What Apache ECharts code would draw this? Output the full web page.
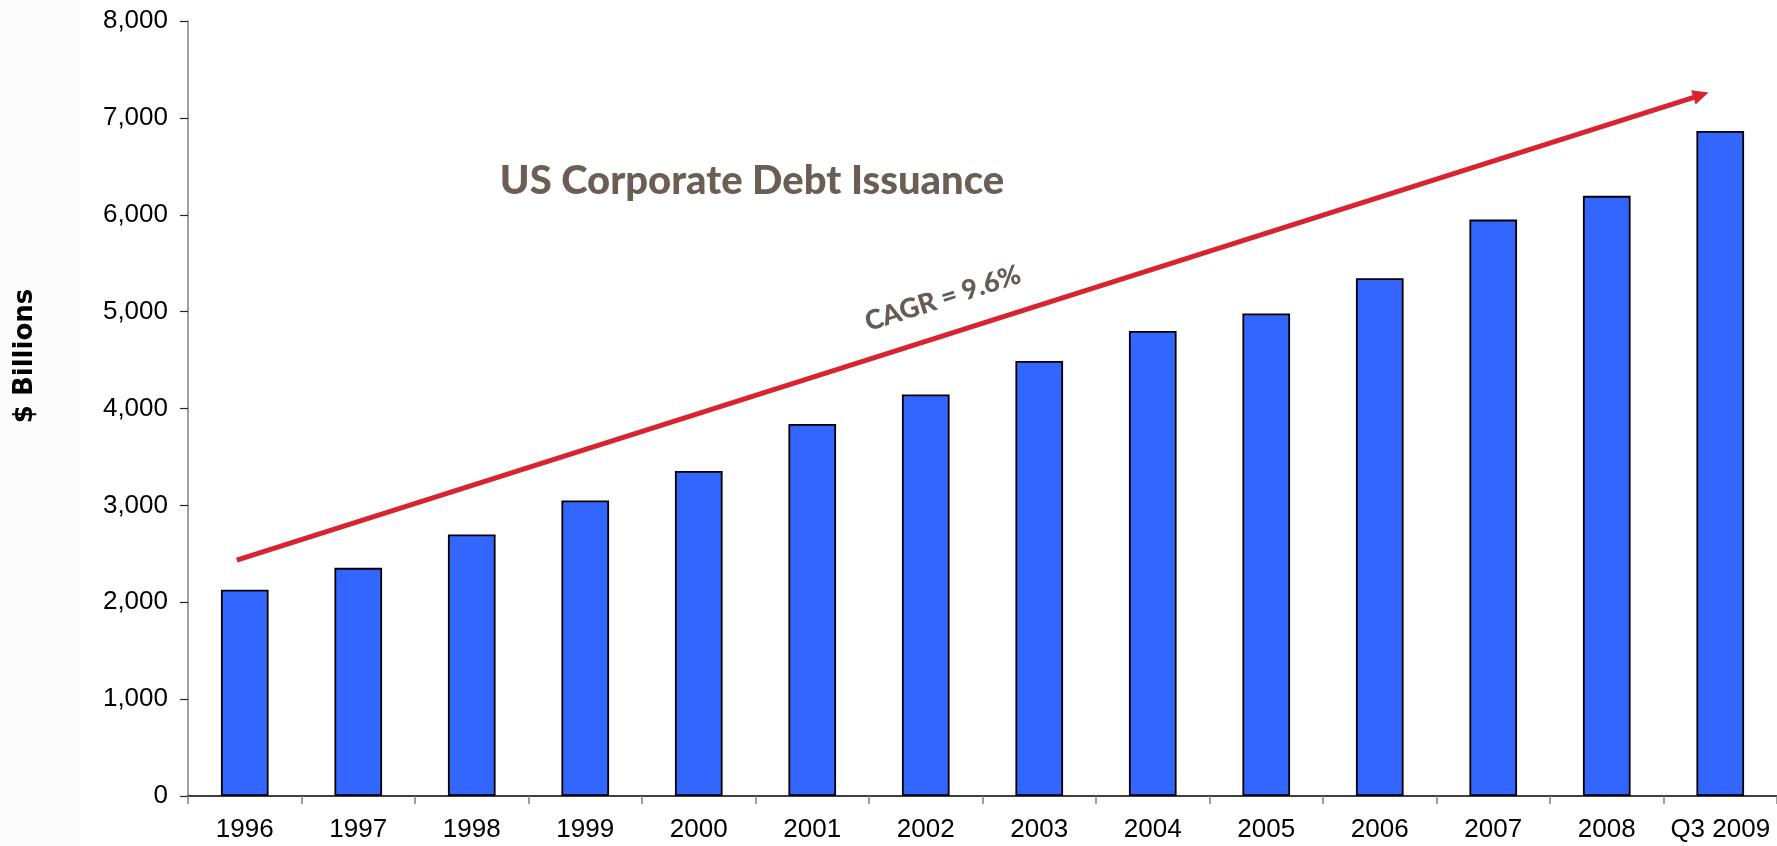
<!DOCTYPE html>
<html>
<head>
<meta charset="utf-8">
<script src="https://cdn.jsdelivr.net/npm/echarts@6/dist/echarts.min.js"></script>
<style>
  html, body { margin: 0; padding: 0; background: #ffffff; }
  #chart { width: 1777px; height: 846px; }
</style>
</head>
<body>
<div id="chart"></div>
<script>
// US corporate debt issuance, $ billions
const categories = ['1996', '1997', '1998', '1999', '2000', '2001', '2002', '2003',
                    '2004', '2005', '2006', '2007', '2008', 'Q3 2009'];
const issuance = [2130, 2355, 2700, 3050, 3355, 3840, 4145, 4490, 4800, 4980, 5345, 5950, 6195, 6865];
const yTicks = { min: 0, max: 8000, interval: 1000 };

// Trend arrow, in (category position, $ billions)
const trendStart = [-0.07, 2436];
const trendEnd = [12.83, 7236];
const trendLabel = 'CAGR = 9.6%';
const chartTitle = 'US Corporate Debt Issuance';
const yAxisTitle = '$ Billions';

const chart = echarts.init(document.getElementById('chart'), null, { renderer: 'canvas' });

chart.setOption({
  animation: false,
  backgroundColor: '#ffffff',
  grid: { left: 188, right: 0, top: 21, bottom: 50, containLabel: false },
  xAxis: [
    {
      type: 'category',
      data: categories,
      boundaryGap: true,
      axisLine: { onZero: false, lineStyle: { color: '#000000', width: 1.5 } },
      axisTick: { show: true, interval: 0, length: 8, lineStyle: { color: '#808080', width: 1.5 } },
      axisLabel: { interval: 0, margin: 21, color: '#000000', fontSize: 26,
                   fontFamily: 'Liberation Sans, Arial, sans-serif' }
    },
    {
      // helper scale for the trend arrow, one unit per category
      type: 'value', show: false, min: -0.5, max: 13.5
    }
  ],
  yAxis: {
    type: 'value',
    min: yTicks.min, max: yTicks.max, interval: yTicks.interval,
    axisLine: { show: true, onZero: false, lineStyle: { color: '#808080', width: 1.5 } },
    axisTick: { show: true, length: 8, lineStyle: { color: '#222222', width: 1.2 } },
    splitLine: { show: false },
    axisLabel: {
      margin: 20, color: '#000000', fontSize: 26,
      fontFamily: 'Liberation Sans, Arial, sans-serif',
      formatter: v => v.toLocaleString('en-US')
    }
  },
  series: [
    {
      type: 'bar',
      data: issuance,
      barWidth: '42%',
      itemStyle: { color: '#3366ff', borderColor: '#000000', borderWidth: 1.8 }
    },
    {
      type: 'line',
      xAxisIndex: 1,
      yAxisIndex: 0,
      data: [],
      silent: true,
      markLine: {
        silent: true,
        symbol: ['none', 'triangle'],
        symbolSize: [15, 16],
        lineStyle: { color: '#d9232e', width: 5, type: 'solid' },
        label: {
          show: true,
          position: 'middle',
          formatter: trendLabel,
          distance: 22,
          padding: [0, 32, 0, 0],
          color: '#675c53',
          fontSize: 27,
          fontWeight: 900,
          fontFamily: 'Lato, "Open Sans", sans-serif'
        },
        data: [[{ coord: trendStart }, { coord: trendEnd }]]
      }
    }
  ],
  graphic: [
    {
      type: 'rect', z: -10, silent: true,
      shape: { x: 0, y: 0, width: 80, height: 846 },
      style: { fill: '#fcfcfc' }
    },
    {
      type: 'text', x: 752, y: 181, silent: true,
      style: {
        text: chartTitle, textAlign: 'center', textVerticalAlign: 'middle',
        fill: '#6b5e54', fontSize: 40, fontWeight: 900,
        fontFamily: 'Lato, "Open Sans", sans-serif'
      }
    },
    {
      type: 'text', x: 25, y: 356, rotation: Math.PI / 2, silent: true,
      style: {
        text: yAxisTitle, textAlign: 'center', textVerticalAlign: 'middle',
        fill: '#000000', fontSize: 26, fontWeight: 'bold',
        fontFamily: '"DejaVu Sans", sans-serif'
      }
    }
  ]
});
</script>
</body>
</html>
